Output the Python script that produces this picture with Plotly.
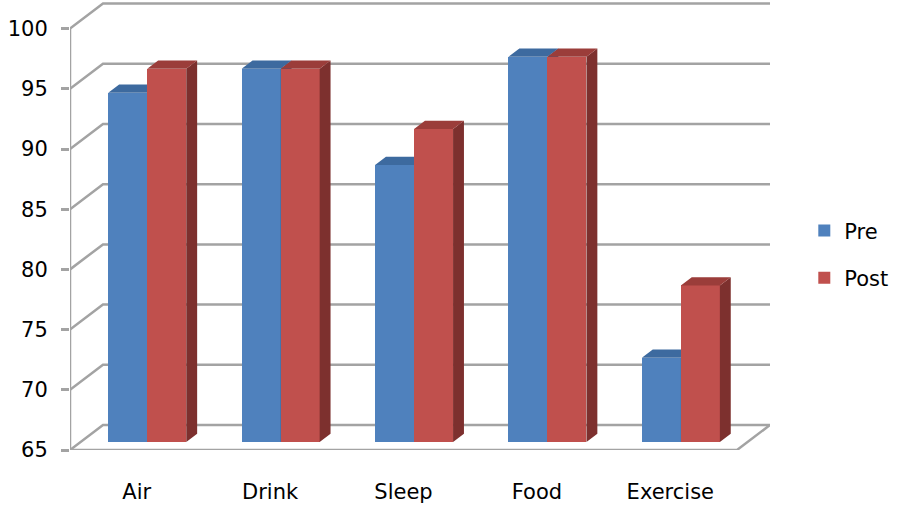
import plotly.graph_objects as go

# ---- data -------------------------------------------------------------
categories = ["Air", "Drink", "Sleep", "Food", "Exercise"]
pre_values = [94, 96, 88, 97, 72]
post_values = [96, 96, 91, 97, 78]
y_ticks = [65, 70, 75, 80, 85, 90, 95, 100]

# ---- styling / geometry ----------------------------------------------
W, H = 897, 507
PLOT_L, PLOT_R, PLOT_T, PLOT_B = 70, 770, 2, 450   # plot area in pixels
PX_PER_CAT = 133.4                                # pixels per category slot
PX_PER_VAL = 12.04                                # pixels per value unit
Y_MIN = y_ticks[0]

# oblique depth of the 3D box, in axis units
DEPTH_PX_X, DEPTH_PX_Y = 33, 25
DX = DEPTH_PX_X / PX_PER_CAT
DY = DEPTH_PX_Y / PX_PER_VAL
F0, F1 = 0.32, 0.65        # bars sit between these depth fractions
BAR_W = 39 / PX_PER_CAT

X0 = -0.5
X1 = len(categories) - 0.5
x_range = [X0, X0 + (PLOT_R - PLOT_L) / PX_PER_CAT]
y_range = [Y_MIN, Y_MIN + (PLOT_B - PLOT_T) / PX_PER_VAL]

GRID = "#a3a3a3"
FONT = dict(family="DejaVu Sans", size=21, color="#000000")

PRE_FRONT, PRE_TOP, PRE_SIDE = "#4f81bd", "#3d6a9f", "#345a88"
POST_FRONT, POST_TOP, POST_SIDE = "#c0504d", "#9b3d3a", "#7d302e"


def bar_lefts(offset_sign):
    # front-face left edge of each bar (Pre left of centre, Post right)
    shift = DX * F0
    return [i + shift + (-BAR_W if offset_sign < 0 else 0.0)
            for i in range(len(categories))]


def faces(lefts, values):
    """Top and right-side polygons of each bar, from its value."""
    ddx = DX * (F1 - F0)
    ddy = DY * (F1 - F0)
    yb = Y_MIN + DY * F0
    tx, ty, sx, sy = [], [], [], []
    for xl, v in zip(lefts, values):
        xr = xl + BAR_W
        yt = v + DY * F0
        tx += [xl, xr, xr + ddx, xl + ddx, xl, None]
        ty += [yt, yt, yt + ddy, yt + ddy, yt, None]
        sx += [xr, xr, xr + ddx, xr + ddx, xr, None]
        sy += [yb, yt, yt + ddy, yb + ddy, yb, None]
    return (tx, ty), (sx, sy)


fig = go.Figure()


def add_series(name, values, sign, front, top, side, xa, ya, group):
    lefts = bar_lefts(sign)
    centres = [x + BAR_W / 2 for x in lefts]
    fig.add_trace(go.Bar(
        name=name, x=centres, y=[v - Y_MIN for v in values],
        base=Y_MIN + DY * F0, width=BAR_W,
        marker=dict(color=front, line=dict(width=0)),
        xaxis=xa, yaxis=ya, legendgroup=group, showlegend=True,
        hoverinfo="skip"))
    (tx, ty), (sx, sy) = faces(lefts, values)
    fig.add_trace(go.Scatter(
        x=sx, y=sy, mode="lines", fill="toself", fillcolor=side,
        line=dict(width=0, color=side), xaxis=xa, yaxis=ya,
        showlegend=False, hoverinfo="skip", legendgroup=group))
    fig.add_trace(go.Scatter(
        x=tx, y=ty, mode="lines", fill="toself", fillcolor=top,
        line=dict(width=0, color=top), xaxis=xa, yaxis=ya,
        showlegend=False, hoverinfo="skip", legendgroup=group))


# Pre on the base axes, Post on an overlay so it paints over Pre's top
add_series("Pre", pre_values, -1, PRE_FRONT, PRE_TOP, PRE_SIDE, "x", "y", "pre")
add_series("Post", post_values, +1, POST_FRONT, POST_TOP, POST_SIDE, "x2", "y2", "post")

# ---- walls, floor and gridlines (drawn beneath the bars) -------------
shapes = []
line_style = dict(color=GRID, width=2.5)
for v in y_ticks:
    path = (f"M {X0},{v} L {X0 + DX},{v + DY} L {X1 + DX},{v + DY}")
    shapes.append(dict(type="path", path=path, xref="x", yref="y",
                       line=line_style, layer="below"))
# floor front edge and right edge
shapes.append(dict(type="path",
                   path=f"M {X0},{Y_MIN} L {X1},{Y_MIN} L {X1 + DX},{Y_MIN + DY}",
                   xref="x", yref="y", line=line_style, layer="below"))
# front value axis
shapes.append(dict(type="line", x0=X0, x1=X0, y0=Y_MIN, y1=y_ticks[-1],
                   xref="x", yref="y", line=line_style, layer="below"))

fig.update_layout(
    width=W, height=H,
    margin=dict(l=PLOT_L, r=W - PLOT_R, t=PLOT_T, b=H - PLOT_B, pad=0),
    paper_bgcolor="white", plot_bgcolor="white",
    barmode="overlay", bargap=0,
    font=FONT,
    shapes=shapes,
    showlegend=True,
    legend=dict(x=1.049, xanchor="left", y=0.535, yanchor="top",
                tracegroupgap=17, font=FONT, bgcolor="rgba(0,0,0,0)",
                traceorder="grouped"),
    xaxis=dict(range=x_range, tickvals=list(range(len(categories))),
               ticktext=categories, showgrid=False, zeroline=False,
               showline=False, ticks="", ticklabelstandoff=27,
               tickfont=FONT, fixedrange=True),
    yaxis=dict(range=y_range, tickvals=y_ticks, showgrid=False,
               zeroline=False, showline=False, ticks="outside", ticklen=8,
               tickwidth=2.5, tickcolor=GRID, ticklabelstandoff=9,
               tickfont=FONT, fixedrange=True),
    xaxis2=dict(range=x_range, overlaying="x", visible=False, fixedrange=True),
    yaxis2=dict(range=y_range, overlaying="y", visible=False, fixedrange=True),
)

fig.write_html("out.html")
